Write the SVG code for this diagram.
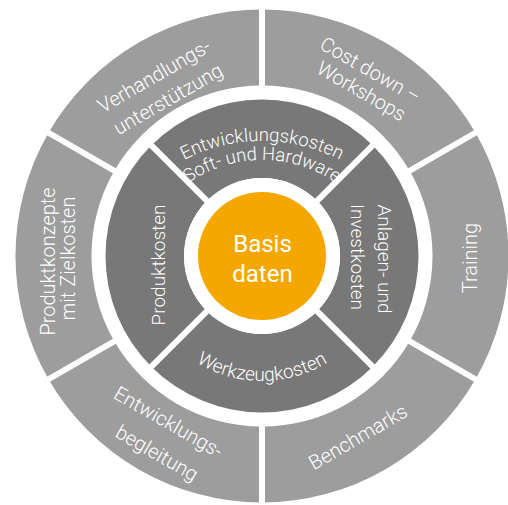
<svg xmlns="http://www.w3.org/2000/svg" width="508" height="505" viewBox="0 0 508 505">
<style>
.outer{fill:#9d9d9d}
.inner{fill:#787878}
.core{fill:#f5a700}
.t{font-family:Roboto,"Liberation Sans",sans-serif;font-weight:300;fill:#ffffff;text-anchor:middle}
.o{font-size:20px}
.i{font-size:19px}
.it{font-size:18.5px}
.c{font-family:Roboto,"Liberation Sans",sans-serif;font-weight:400;font-size:24px;fill:#ffffff;text-anchor:middle}
.div{stroke:#ffffff;stroke-width:6;fill:none}
</style>
<defs>
<path id="arcTop1" d="M112 231 A170 170 0 0 1 412 231"/>
<path id="arcTop2" d="M137 254.3 A130 130 0 0 1 387 254.3"/>
<path id="arcBot" d="M144.54 298.75 A125 125 0 0 0 379.46 298.75"/>
<clipPath id="clipTop"><path d="M151.34 145.34 A156.5 156.5 0 0 1 372.66 145.34 L317.15 200.85 A78 78 0 0 0 206.85 200.85 Z"/></clipPath>
</defs>
<rect width="508" height="505" fill="#ffffff"/>

<g id="seg-verhandlung">
<path class="outer" d="M48.53 132.75 A246.5 246.5 0 0 1 262 9.5 L262 85.5 A170.5 170.5 0 0 0 114.34 170.75 Z"/>
<text class="t o" transform="translate(157.5,82) rotate(-30)">Verhandlungs-</text>
<text class="t o" transform="translate(171.5,105) rotate(-30)">unterstützung</text>
</g>
<g id="seg-costdown">
<path class="outer" d="M262 9.5 A246.5 246.5 0 0 1 475.47 132.75 L409.66 170.75 A170.5 170.5 0 0 0 262 85.5 Z"/>
<text class="t o" transform="translate(367,76) rotate(30)">Cost down –</text>
<text class="t o" transform="translate(358,97) rotate(30)">Workshops</text>
</g>
<g id="seg-training">
<path class="outer" d="M475.47 132.75 A246.5 246.5 0 0 1 475.47 379.25 L409.66 341.25 A170.5 170.5 0 0 0 409.66 170.75 Z"/>
<text class="t o" transform="translate(477,258) rotate(-90)">Training</text>
</g>
<g id="seg-benchmarks">
<path class="outer" d="M475.47 379.25 A246.5 246.5 0 0 1 262 502.5 L262 426.5 A170.5 170.5 0 0 0 409.66 341.25 Z"/>
<text class="t o" transform="translate(361.5,443) rotate(-30)">Benchmarks</text>
</g>
<g id="seg-begleitung">
<path class="outer" d="M262 502.5 A246.5 246.5 0 0 1 48.53 379.25 L114.34 341.25 A170.5 170.5 0 0 0 262 426.5 Z"/>
<text class="t o" transform="translate(165,428) rotate(30)">Entwicklungs-</text>
<text class="t o" transform="translate(153.5,459) rotate(30)">begleitung</text>
</g>
<g id="seg-produktkonzepte">
<path class="outer" d="M48.53 379.25 A246.5 246.5 0 0 1 48.53 132.75 L114.34 170.75 A170.5 170.5 0 0 0 114.34 341.25 Z"/>
<text class="t o" transform="translate(55,261.5) rotate(-90)">Produktkonzepte</text>
<text class="t o" transform="translate(74.5,258.5) rotate(-90)">mit Zielkosten</text>
</g>

<g id="seg-entwicklungskosten">
<path class="inner" d="M151.34 145.34 A156.5 156.5 0 0 1 372.66 145.34 L317.15 200.85 A78 78 0 0 0 206.85 200.85 Z"/>
<g clip-path="url(#clipTop)">
<text class="t it"><textPath href="#arcTop1" startOffset="50%">Entwicklungskosten</textPath></text>
<text class="t it"><textPath href="#arcTop2" startOffset="50%">Soft- und Hardware</textPath></text>
</g>
</g>
<g id="seg-anlagen">
<path class="inner" d="M372.66 145.34 A156.5 156.5 0 0 1 372.66 366.66 L317.15 311.15 A78 78 0 0 0 317.15 200.85 Z"/>
<text class="t i" transform="translate(378,259) rotate(90)">Anlagen- und</text>
<text class="t i" transform="translate(351,257) rotate(90)">Investkosten</text>
</g>
<g id="seg-werkzeug">
<path class="inner" d="M372.66 366.66 A156.5 156.5 0 0 1 151.34 366.66 L206.85 311.15 A78 78 0 0 0 317.15 311.15 Z"/>
<text class="t i"><textPath href="#arcBot" startOffset="50%">Werkzeugkosten</textPath></text>
</g>
<g id="seg-produktkosten">
<path class="inner" d="M151.34 366.66 A156.5 156.5 0 0 1 151.34 145.34 L206.85 200.85 A78 78 0 0 0 206.85 311.15 Z"/>
<text class="t i" transform="translate(165,265) rotate(-90)">Produktkosten</text>
</g>

<g id="dividers">
<line class="div" x1="262" y1="91" x2="262" y2="4"/>
<line class="div" x1="404.89" y1="173.5" x2="480.24" y2="130"/>
<line class="div" x1="404.89" y1="338.5" x2="480.24" y2="382"/>
<line class="div" x1="262" y1="421" x2="262" y2="508"/>
<line class="div" x1="119.11" y1="338.5" x2="43.76" y2="382"/>
<line class="div" x1="119.11" y1="173.5" x2="43.76" y2="130"/>
<line class="div" x1="208.97" y1="202.97" x2="148.86" y2="142.86"/>
<line class="div" x1="315.03" y1="202.97" x2="375.14" y2="142.86"/>
<line class="div" x1="315.03" y1="309.03" x2="375.14" y2="369.14"/>
<line class="div" x1="208.97" y1="309.03" x2="148.86" y2="369.14"/>
</g>

<g id="core">
<circle cx="262" cy="256" r="78" fill="#ffffff"/>
<circle class="core" cx="262" cy="256" r="64"/>
<text class="c" x="262.5" y="252">Basis</text>
<text class="c" x="262.5" y="282">daten</text>
</g>
</svg>
